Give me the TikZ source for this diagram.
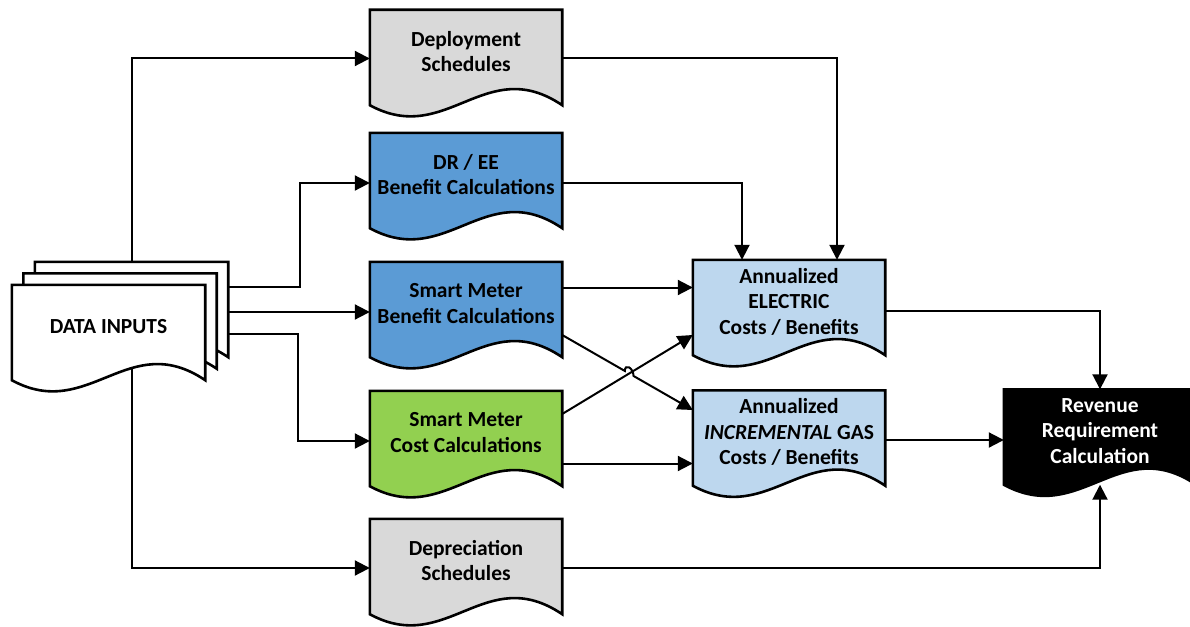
\documentclass[tikz,border=0pt]{standalone}
\usepackage{fontspec}
\setmainfont{Carlito}
\usepackage{tikz}
\usetikzlibrary{positioning, arrows.meta, calc, backgrounds, intersections}
\definecolor{schedgray}{RGB}{217,217,217}
\definecolor{benefitblue}{RGB}{91,155,213}
\definecolor{costgreen}{RGB}{146,208,80}
\definecolor{annualblue}{RGB}{189,215,238}
\newcommand{\boxfont}{\bfseries\fontsize{21.5}{25.5}\selectfont}
% document outline: flat top, wavy bottom hanging below the node
\newcommand{\docshape}[2]{%
  \filldraw[docline, fill=#2] (#1.north west) -- (#1.north east)
    -- ([yshift=-12pt]#1.south east)
    .. controls +(-77,52) and +(77,-42) .. ([yshift=-12pt]#1.south west) -- cycle;}
\tikzset{
    docnode/.style   = {minimum width=192pt, minimum height=83pt, inner sep=0pt,
                        align=center, font=\boxfont},
    sheetnode/.style = {docnode, minimum width=193pt},
    docline/.style   = {draw=black, line width=2.6pt},
    link/.style      = {-{Triangle[length=15pt, width=15pt]}, line width=2pt},
}
\begin{document}
\begin{tikzpicture}[x=1pt, y=1pt]
\useasboundingbox (0,0) rectangle (1190,-626);

\node[sheetnode] (data) at (108.5,-326.5) {DATA INPUTS};
\node[sheetnode] (data2) at ($(data)+(11.5,11.5)$) {};
\node[sheetnode] (data3) at ($(data)+(23,23)$) {};

\node[docnode] (dep)  at (466,-51.5)  {Deployment\\Schedules};
\node[docnode] (dree) at (466,-174.5) {DR / EE\\Benefit Calculations};
\node[docnode] (smb)  at (466,-303.5) {Smart Meter\\Benefit Calculations};
\node[docnode] (smc)  at (466,-432.5) {Smart Meter\\Cost Calculations};
\node[docnode] (depr) at (466,-560.5) {Depreciation\\Schedules};

\node[docnode] (elec) at (789,-301.5) {Annualized\\ELECTRIC\\Costs / Benefits};
\node[docnode] (gas)  at (789,-432)
    {Annualized\\\textit{INCREMENTAL} GAS\\Costs / Benefits};
\node[docnode, text=white] (rev) at (1100,-431)
    {Revenue\\Requirement\\Calculation};

\begin{scope}[on background layer]
  \docshape{data3}{white}
  \docshape{data2}{white}
  \docshape{data}{white}
  \docshape{dep}{schedgray}
  \docshape{dree}{benefitblue}
  \docshape{smb}{benefitblue}
  \docshape{smc}{costgreen}
  \docshape{depr}{schedgray}
  \docshape{elec}{annualblue}
  \docshape{gas}{annualblue}
  \docshape{rev}{black}
\end{scope}

% inputs fan out
\draw[link] (data3.north) |- ([yshift=-7pt]dep.west);
\draw[link] ([yshift=16.5pt]data3.east) -- ++(72,0) |- ([yshift=-8.5pt]dree.west);
\draw[link] ([yshift=-8.5pt]data3.east) -- ([yshift=-8.5pt]smb.west);
\draw[link] ([yshift=-30.5pt]data3.east) -- ++(70,0) |- ([yshift=-8.5pt]smc.west);
\draw[link] ([xshift=23.5pt]data.south) |- ([yshift=-7.5pt]depr.west);

% into the annualized boxes
\draw[link] ([yshift=-7pt]dep.east) -| ([xshift=48pt]elec.north);
\draw[link] ([yshift=-8.5pt]dree.east) -| ([xshift=-47pt]elec.north);
\draw[link] ([yshift=16pt]smb.east) -- ([yshift=16pt]smb.east -| elec.west);
\draw[link] ([yshift=-31pt]smc.east) -- ([yshift=-31pt]smc.east -| gas.west);

\coordinate (smbout) at ([yshift=-31.5pt]smb.east);
\coordinate (gasin)  at ([yshift=22pt]gas.west);
\coordinate (smcout) at ([yshift=18.5pt]smc.east);
\coordinate (elecin) at ([yshift=-33.5pt]elec.west);
\path[name path=benefitgas] (smbout) -- (gasin);
\path[name path=costelec] (smcout) -- (elecin);
\path[name intersections={of=benefitgas and costelec, by=hop}];
\draw[link] (smcout) -- (elecin);
\draw[link] (smbout) -- ($(hop)!5pt!(smbout)$)
    .. controls +(0,8) and +(0,8) .. ($(hop)!5pt!(gasin)$) -- (gasin);

% revenue requirement
\draw[link] ([yshift=-9.5pt]elec.east) -| (rev.north);
\draw[link] ([yshift=-8pt]gas.east) -- ([yshift=-8pt]gas.east -| rev.west);
\draw[link] ([yshift=-7.5pt]depr.east) -| ([yshift=-12pt]rev.south);

\end{tikzpicture}
\end{document}
